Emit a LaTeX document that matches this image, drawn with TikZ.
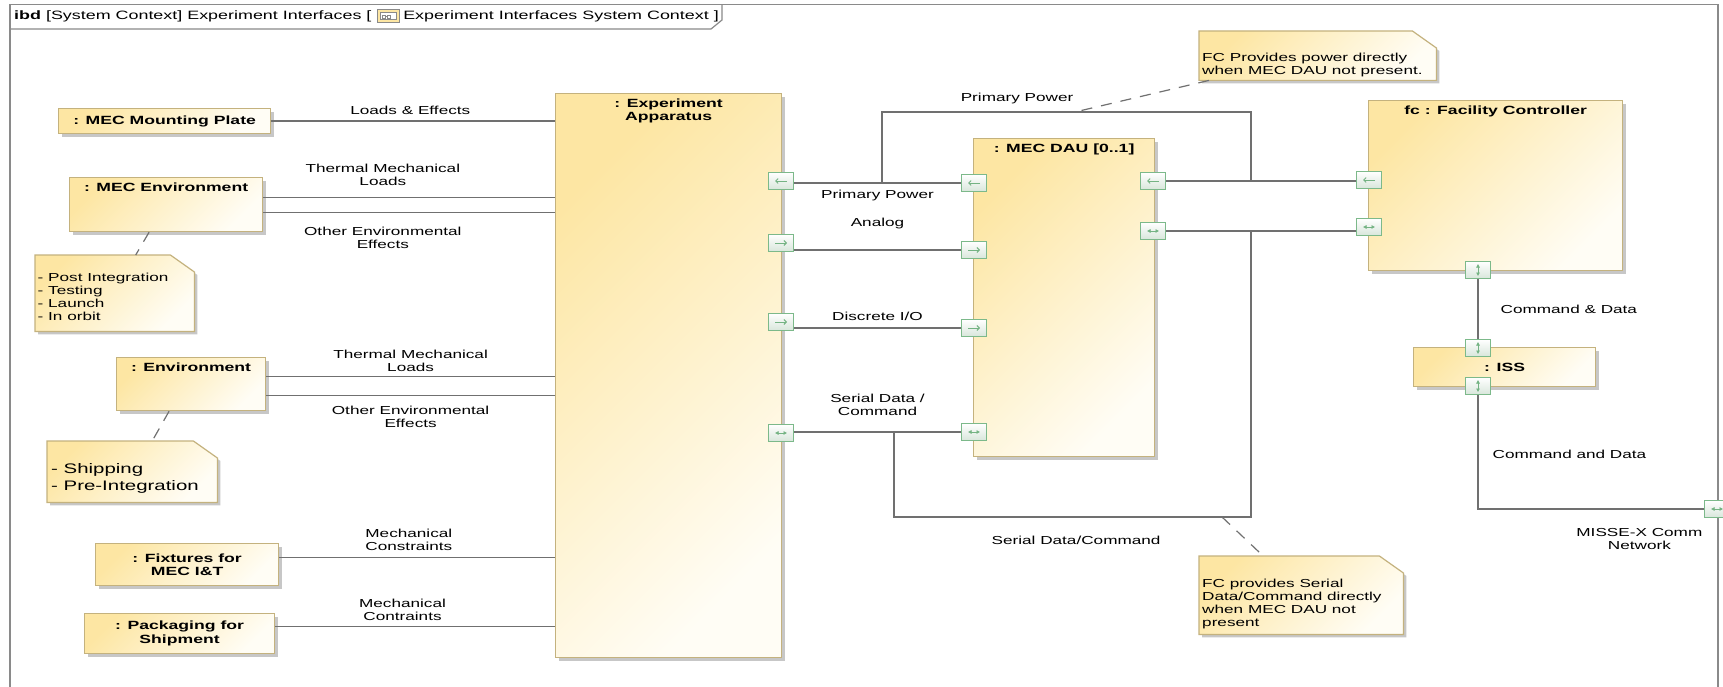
\documentclass[tikz,border=0pt]{standalone}
\usepackage{fontspec}
\setmainfont{Liberation Sans}[FakeStretch=1.48]
\usetikzlibrary{positioning,shadows,arrows.meta}

\definecolor{blockline}{HTML}{C4B27E}
\definecolor{blocktop}{HTML}{FDE6A3}
\definecolor{blockbot}{HTML}{FFFDF5}
\definecolor{portline}{HTML}{7CB98A}
\definecolor{portfill}{HTML}{D8E6DB}
\definecolor{portarrow}{HTML}{74B383}
\definecolor{wiregray}{HTML}{707070}
\definecolor{framegray}{HTML}{8A8A8A}

\tikzset{
  lbl/.style={font=\fontsize{11.6}{13}\selectfont, inner sep=0pt, align=center},
  blk/.style={draw=blockline, line width=1.2pt, top color=blocktop, bottom color=blockbot, shading angle=45,
    drop shadow={shadow xshift=3pt, shadow yshift=-3pt, fill=black!22, opacity=1},
    inner sep=0pt, align=center, font=\bfseries\fontsize{11.9}{13.5}\selectfont},
  ttl/.style={anchor=north, inner sep=0pt, yshift=-5.5pt, align=center, font=\bfseries\fontsize{11.9}{13.5}\selectfont},
  port/.style={draw=portline, line width=1pt, top color=white, bottom color=portfill,
    minimum width=25pt, minimum height=17pt, inner sep=0pt},
  portarr/.style={draw=portarrow, line width=.9pt},
  portl/.style={port, path picture={\draw[portarr, -{Straight Barb[length=2.5pt,width=5pt]}]
    ([xshift=6pt]path picture bounding box.center) -- ([xshift=-6pt]path picture bounding box.center);}},
  portr/.style={port, path picture={\draw[portarr, -{Straight Barb[length=2.5pt,width=5pt]}]
    ([xshift=-6pt]path picture bounding box.center) -- ([xshift=6pt]path picture bounding box.center);}},
  portlr/.style={port, path picture={\draw[portarr, line width=.5pt, {Latex[length=3.5pt,width=4pt]}-{Latex[length=3.5pt,width=4pt]}]
    ([xshift=-6pt]path picture bounding box.center) -- ([xshift=6pt]path picture bounding box.center);}},
  portud/.style={port, path picture={\draw[portarr, line width=.5pt, {Latex[length=3.5pt,width=4pt]}-{Latex[length=3.5pt,width=4pt]}]
    ([yshift=-6pt]path picture bounding box.center) -- ([yshift=6pt]path picture bounding box.center);}},
  wire/.style={draw=wiregray, line width=1.2pt},
  notebox/.style={draw=blockline, line width=1.2pt, top color=blocktop, bottom color=blockbot, shading angle=45,
    drop shadow={shadow xshift=3pt, shadow yshift=-3pt, fill=black!22, opacity=1}},
  notetxt/.style={font=\fontsize{11.6}{13}\selectfont, inner sep=0pt, align=left},
  noteanchor/.style={draw=wiregray, line width=1.2pt, dash pattern=on 11pt off 9pt},
}

\begin{document}
\begin{tikzpicture}[x=1pt, y=-1pt]
		\path[use as bounding box, fill=white] (0,0) rectangle (1723,687);

		% Frame
		\draw[framegray, line width=1.2pt] (10,687) -- (10,4.5) -- (1718,4.5) -- (1718,687);
		\draw[framegray, line width=1.2pt] (10,29) -- (711,29) -- (722,20) -- (722,4.5);
		\node[lbl, font=\fontsize{12.1}{13}\selectfont, anchor=west] (ttlA) at (14,16) {\textbf{ibd} [System Context] Experiment Interfaces [};
		\node[draw=framegray, fill=blocktop, minimum width=22pt, minimum height=13pt, inner sep=0pt, right=5pt of ttlA] (ttlicon) {};
		\draw[framegray, line width=.6pt, fill=white] ([shift={(4pt,-3pt)}]ttlicon.north west) rectangle ([shift={(-3pt,3pt)}]ttlicon.south east);
		\draw[framegray, line width=.6pt] ([shift={(6pt,1pt)}]ttlicon.west) rectangle ([shift={(9pt,-2pt)}]ttlicon.west)
			([shift={(9pt,0pt)}]ttlicon.west) -- ([shift={(11pt,0pt)}]ttlicon.west)
			([shift={(11pt,1pt)}]ttlicon.west) rectangle ([shift={(14pt,-2pt)}]ttlicon.west);
		\node[lbl, font=\fontsize{12.1}{13}\selectfont, right=4pt of ttlicon] (ttlB) {Experiment Interfaces System Context ]};

		% Blocks
		\node[blk, minimum width=212pt, minimum height=25pt, anchor=north west] (plate) at (58,108) {: MEC Mounting Plate};
		\node[blk, minimum width=193pt, minimum height=54pt, anchor=north west, label={[ttl]north:{: MEC Environment}}] (mecenv) at (69,177) {};
		\node[blk, minimum width=149pt, minimum height=53pt, anchor=north west, label={[ttl]north:{: Environment}}] (env) at (116,357) {};
		\node[blk, minimum width=183pt, minimum height=42pt, anchor=north west] (fixtures) at (95,543) {: Fixtures for\\MEC I\&T};
		\node[blk, minimum width=190pt, minimum height=40pt, anchor=north west] (packaging) at (84,613) {: Packaging for\\Shipment};
		\node[blk, minimum width=226pt, minimum height=564pt, anchor=north west, label={[ttl]north:{: Experiment\\Apparatus}}] (apparatus) at (555,93) {};
		\node[blk, minimum width=181pt, minimum height=318pt, anchor=north west, label={[ttl]north:{: MEC DAU [0..1]}}] (dau) at (973,138) {};
		\node[blk, minimum width=254pt, minimum height=170pt, anchor=north west, label={[ttl]north:{fc : Facility Controller}}] (fc) at (1368,100) {};
		\node[blk, minimum width=182pt, minimum height=39pt, anchor=north west] (iss) at (1413,347) {: ISS};

		% Ports
		\node[portl] (ap1) at (781,181) {};
		\node[portr] (ap2) at (781,243) {};
		\node[portr] (ap3) at (781,322) {};
		\node[portlr] (ap4) at (781,433) {};
		\node[portl] (da1) at (974,183) {};
		\node[portr] (da2) at (974,250) {};
		\node[portr] (da3) at (974,328) {};
		\node[portlr] (da4) at (974,432) {};
		\node[portl] (da5) at (1153,181) {};
		\node[portlr] (da6) at (1153,231) {};
		\node[portl] (fc1) at (1369,180) {};
		\node[portlr] (fc2) at (1369,227) {};
		\node[portud] (fc3) at (1478,270) {};
		\node[portud] (iss1) at (1478,348) {};
		\node[portud] (iss2) at (1478,386) {};
		\node[portlr] (misse) at (1717,509) {};

		% Connectors to the apparatus
		\coordinate (me1) at ([yshift=7pt]mecenv.east);
		\coordinate (me2) at ([yshift=-8pt]mecenv.east);
		\coordinate (en1) at ([yshift=7.5pt]env.east);
		\coordinate (en2) at ([yshift=-11.5pt]env.east);
		\coordinate (fx1) at ([yshift=7pt]fixtures.east);
		\coordinate (pk1) at ([yshift=7pt]packaging.east);
		\draw[wire] (plate.east) -- (plate.east -| apparatus.west) node[lbl, pos=.49, above=6pt] {Loads \& Effects};
		\draw[wire] (me1) -- (me1 -| apparatus.west) node[lbl, pos=.41, above=11pt] {Thermal Mechanical\\Loads};
		\draw[wire] (me2) -- (me2 -| apparatus.west) node[lbl, pos=.41, below=14pt] {Other Environmental\\Effects};
		\draw[wire] (en1) -- (en1 -| apparatus.west) node[lbl, pos=.5, above=4pt] {Thermal Mechanical\\Loads};
		\draw[wire] (en2) -- (en2 -| apparatus.west) node[lbl, pos=.5, below=10pt] {Other Environmental\\Effects};
		\draw[wire] (fx1) -- (fx1 -| apparatus.west) node[lbl, pos=.47, above=6pt] {Mechanical\\Constraints};
		\draw[wire] (pk1) -- (pk1 -| apparatus.west) node[lbl, pos=.455, above=5pt] {Mechanical\\Contraints};

		% Connectors apparatus -- DAU -- FC
		\draw[wire] (ap1.east |- da1) -- (da1.west) node[lbl, midway, below=6pt] {Primary Power};
		\draw[wire] (ap2.east |- da2) -- (da2.west) node[lbl, midway, above=20pt] {Analog};
		\draw[wire] (ap3.east |- da3) -- (da3.west) node[lbl, midway, above=7pt] {Discrete I/O};
		\draw[wire] (ap4.east |- da4) -- (da4.west) node[lbl, midway, above=16pt] {Serial Data /\\Command};
		\draw[wire] (da5.east) -- (da5.east -| fc1.west);
		\draw[wire] (da6.east) -- (da6.east -| fc2.west);

		% Bypass when no DAU
		\coordinate (pwrtap) at (882,183);
		\coordinate (pwrjoin) at (1251,181);
		\coordinate (sertap) at (894,432);
		\coordinate (serjoin) at (1251,231);
		\draw[wire] (pwrtap) -- ++(0,-71) -| node[lbl, pos=.183, above=7pt] {Primary Power} (pwrjoin);
		\draw[wire] (sertap) -- ++(0,85) -| node[lbl, pos=.255, below=18pt] {Serial Data/Command} (serjoin);

		% FC -- ISS -- network
		\draw[wire] (fc3.south) -- (fc3.south |- iss1.north) node[lbl, midway, right=22pt] {Command \& Data};
		\draw[wire] (iss2.south) |- (misse.west)
			node[lbl, pos=.26, right=14pt] {Command and Data}
			node[lbl, pos=.857, below=19pt] {MISSE-X Comm\\Network};

		% Notes
		\node[minimum width=159pt, minimum height=76pt, inner sep=0pt, anchor=north west] (note1) at (35,255) {};
		\node[minimum width=170pt, minimum height=61pt, inner sep=0pt, anchor=north west] (note2) at (47,441) {};
		\node[minimum width=204pt, minimum height=78pt, inner sep=0pt, anchor=north west] (note3) at (1199,556) {};
		\node[minimum width=237pt, minimum height=49pt, inner sep=0pt, anchor=north west] (note4) at (1199,31) {};
		\foreach \n in {note1,note2,note3,note4}
			\path[notebox] (\n.north west) -- ([xshift=-24pt]\n.north east) -- ([yshift=-17pt]\n.north east)
				-- (\n.south east) -- (\n.south west) -- cycle;
		\node[notetxt, below right=17.6pt and 2.5pt of note1.north west] (note1txt) {- Post Integration\\- Testing\\- Launch\\- In orbit};
		\node[notetxt, font=\fontsize{13.8}{17}\selectfont, below right=22pt and 4pt of note2.north west] (note2txt) {- Shipping\\- Pre-Integration};
		\node[notetxt, below right=22.8pt and 3pt of note3.north west] (note3txt) {FC provides Serial\\Data/Command directly\\when MEC DAU not\\present};
		\node[notetxt, below right=21.8pt and 3pt of note4.north west] (note4txt) {FC Provides power directly\\when MEC DAU not present.};

		% Note anchors
		\coordinate (sernote) at (1222,517);
		\coordinate (pwrnote) at (1075,112);
		\draw[noteanchor] ([xshift=-17pt]mecenv.south) -- ([xshift=21pt]note1.north);
		\draw[noteanchor] ([xshift=-22pt]env.south) -- ([xshift=20pt]note2.north);
		\draw[noteanchor] (sernote) -- ([xshift=-38pt]note3.north);
		\draw[noteanchor] ([xshift=10pt]note4.south west) -- (pwrnote);
	\end{tikzpicture}
\end{document}
